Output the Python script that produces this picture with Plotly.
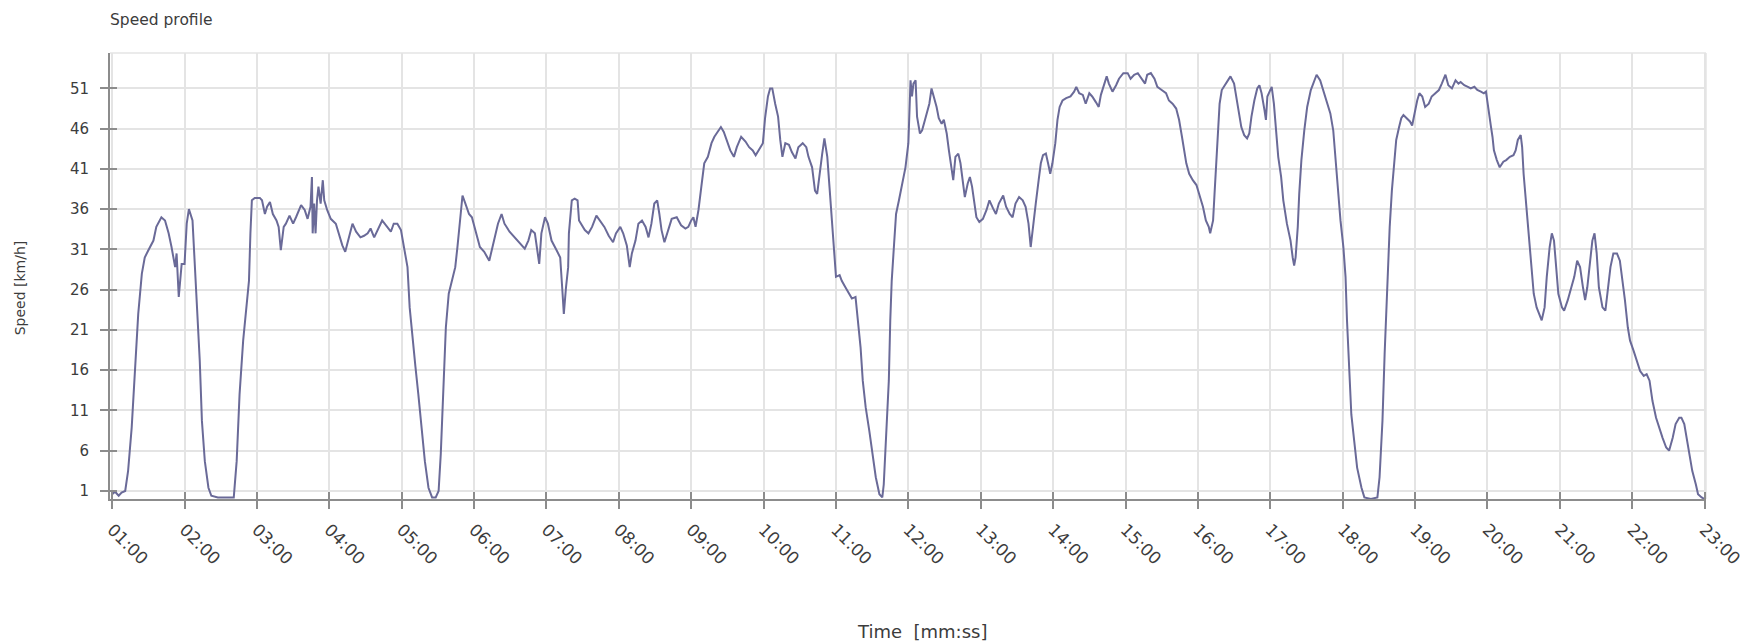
import plotly.graph_objects as go

# Elapsed ride time in minutes and the measured speed in km/h
time_min = [
    1.00, 1.04, 1.09, 1.13, 1.18, 1.22, 1.27, 1.32, 1.36, 1.41, 1.45, 1.50, 1.57, 1.61, 1.68, 1.73,
    1.78, 1.82, 1.87, 1.89, 1.92, 1.96, 2.00, 2.03, 2.06, 2.11, 2.14, 2.18, 2.21, 2.24, 2.28, 2.33,
    2.37, 2.46, 2.56, 2.68, 2.72, 2.76, 2.81, 2.85, 2.89, 2.91, 2.93, 2.97, 3.04, 3.07, 3.11, 3.14,
    3.18, 3.22, 3.27, 3.30, 3.33, 3.37, 3.40, 3.45, 3.50, 3.54, 3.61, 3.66, 3.70, 3.74, 3.76, 3.77,
    3.79, 3.81, 3.83, 3.85, 3.88, 3.91, 3.93, 3.97, 4.02, 4.09, 4.14, 4.18, 4.22, 4.28, 4.32, 4.37,
    4.43, 4.48, 4.53, 4.57, 4.62,
    4.73, 4.80, 4.85, 4.89, 4.94, 4.99, 5.03, 5.08, 5.11, 5.15, 5.19, 5.23, 5.28, 5.32, 5.37, 5.42,
    5.47, 5.51, 5.54, 5.57, 5.61, 5.65, 5.69, 5.74, 5.77, 5.81, 5.84, 5.88, 5.93, 5.97, 6.03, 6.08,
    6.14, 6.21, 6.27, 6.33, 6.38, 6.42, 6.49, 6.56, 6.63, 6.70, 6.75, 6.79, 6.84, 6.87, 6.90, 6.93,
    6.98, 7.02, 7.07, 7.14, 7.19, 7.22, 7.24, 7.27, 7.30, 7.31, 7.35, 7.39, 7.43, 7.45, 7.49, 7.53,
    7.58, 7.63, 7.69, 7.74, 7.80, 7.86, 7.92, 7.96, 8.02, 8.06, 8.11, 8.15, 8.18, 8.23, 8.27, 8.32,
    8.37, 8.41,
    8.45, 8.49, 8.53, 8.56, 8.59, 8.63, 8.68, 8.73, 8.80, 8.86, 8.92, 8.96, 9.00, 9.03, 9.06, 9.10,
    9.14, 9.18, 9.23, 9.28, 9.32, 9.37, 9.41, 9.45, 9.49, 9.54, 9.59, 9.63, 9.69, 9.75, 9.80, 9.85,
    9.89, 9.94, 9.99, 10.02, 10.06, 10.09, 10.12, 10.16, 10.20, 10.23, 10.26, 10.30, 10.35, 10.39,
    10.44, 10.48, 10.54, 10.59, 10.62, 10.67, 10.71, 10.74, 10.77, 10.81, 10.84, 10.88, 10.91, 10.94,
    10.97, 11.00, 11.05, 11.08, 11.13, 11.18, 11.22, 11.27, 11.30, 11.34, 11.37, 11.41, 11.46, 11.51,
    11.55, 11.60, 11.64, 11.66, 11.69, 11.73, 11.75, 11.77, 11.80, 11.83, 11.87, 11.91, 11.96, 12.00,
    12.03, 12.05, 12.07,
    12.10, 12.12, 12.16, 12.19, 12.23, 12.26, 12.29, 12.32, 12.35, 12.39, 12.42, 12.46, 12.49, 12.53,
    12.56, 12.60, 12.62, 12.65, 12.69, 12.72, 12.76, 12.78, 12.82, 12.85, 12.88, 12.91, 12.94, 12.98,
    13.03, 13.08, 13.12, 13.17, 13.21, 13.25, 13.31, 13.35, 13.40, 13.44, 13.48, 13.53, 13.58, 13.62,
    13.66, 13.69, 13.72, 13.76, 13.80, 13.83, 13.86, 13.90, 13.93, 13.96, 13.99, 14.03, 14.06, 14.09,
    14.13, 14.18, 14.24, 14.29, 14.32, 14.36, 14.41, 14.45, 14.50, 14.54, 14.59, 14.63, 14.66, 14.71,
    14.74, 14.77, 14.82, 14.87, 14.91, 14.97, 15.03, 15.07, 15.12, 15.17, 15.23, 15.27, 15.30, 15.35,
    15.40, 15.44, 15.50, 15.56, 15.60, 15.65, 15.70, 15.74, 15.78, 15.81, 15.84, 15.88,
    15.93, 15.98, 16.02, 16.07, 16.11, 16.15, 16.17, 16.21, 16.23, 16.25, 16.28, 16.30, 16.33, 16.37,
    16.41, 16.45, 16.50, 16.53, 16.56, 16.60, 16.64, 16.68, 16.71, 16.74, 16.78, 16.82, 16.85, 16.88,
    16.92, 16.94, 16.96, 17.00, 17.02, 17.05, 17.08, 17.11, 17.15, 17.18, 17.23, 17.28, 17.31, 17.33,
    17.35, 17.38, 17.40, 17.43, 17.47, 17.51, 17.56, 17.61, 17.64, 17.69, 17.73, 17.78, 17.83, 17.87,
    17.90, 17.94, 17.97, 18.01, 18.04, 18.06, 18.09, 18.12, 18.16, 18.20, 18.26, 18.30, 18.39, 18.48,
    18.51, 18.55, 18.58, 18.61, 18.62, 18.65, 18.68, 18.71, 18.74, 18.78, 18.81, 18.84, 18.88, 18.93,
    18.96, 18.99, 19.03, 19.06, 19.10, 19.14, 19.19, 19.23, 19.28, 19.33, 19.37, 19.42, 19.46, 19.51,
    19.56, 19.60,
    19.63, 19.68, 19.73, 19.77, 19.82, 19.86, 19.91, 19.95, 19.98, 20.00, 20.02, 20.05, 20.07, 20.09,
    20.13, 20.17, 20.22, 20.26, 20.31, 20.36, 20.39, 20.42, 20.46, 20.48, 20.50, 20.53, 20.56, 20.58,
    20.61, 20.64, 20.68, 20.71, 20.75, 20.79, 20.82, 20.86, 20.89, 20.92, 20.95, 20.98, 21.03, 21.06,
    21.11, 21.15, 21.20, 21.24, 21.28, 21.32, 21.35, 21.38, 21.42, 21.45, 21.48, 21.51, 21.54, 21.59,
    21.63, 21.66, 21.70, 21.74, 21.79, 21.83, 21.86, 21.90, 21.94, 21.97, 22.02, 22.06, 22.11, 22.16,
    22.20, 22.24, 22.28, 22.33, 22.37, 22.42, 22.47, 22.51, 22.56, 22.60, 22.65, 22.68, 22.72, 22.75,
    22.79, 22.83, 22.88, 22.91, 22.96, 23.00,
]

speed_kmh = [
    0.6, 0.9, 0.4, 0.8, 1.0, 3.5, 8.9, 17.2, 23.0, 28.0, 30.0, 30.9, 32.1, 33.8, 35.0, 34.6,
    33.0, 31.3, 28.8, 30.5, 25.1, 29.2, 29.2, 34.2, 36.0, 34.6, 29.6, 23.4, 17.2, 9.7, 4.7, 1.4,
    0.4, 0.2, 0.2, 0.2, 4.7, 13.0, 19.7, 23.0, 27.1, 33.0, 37.1, 37.4, 37.4, 37.1, 35.4, 36.3,
    36.9, 35.4, 34.6, 33.8, 30.9, 33.8, 34.2, 35.2, 34.2, 35.0, 36.5, 35.9, 34.8, 36.3, 40.0, 33.0,
    36.7, 33.0, 37.1, 38.8, 36.7, 39.6, 37.1, 35.9, 34.8, 34.2, 32.5, 31.5, 30.7, 33.0, 34.2, 33.2,
    32.5, 32.7, 33.0, 33.6, 32.5,
    34.6, 33.8, 33.2, 34.2, 34.2, 33.4, 31.3, 28.8, 23.8, 20.5, 16.4, 13.0, 8.5, 4.7, 1.4, 0.2,
    0.2, 1.0, 5.6, 13.0, 21.3, 25.5, 27.1, 28.8, 31.3, 35.0, 37.7, 36.7, 35.4, 35.0, 33.0, 31.3,
    30.7, 29.6, 31.9, 34.2, 35.4, 34.2, 33.2, 32.5, 31.9, 31.1, 32.1, 33.4, 33.0, 31.3, 29.2, 33.0,
    35.0, 34.2, 32.1, 30.9, 30.0, 25.9, 23.0, 26.3, 28.8, 33.0, 37.1, 37.3, 37.1, 34.6, 34.0, 33.4,
    33.0, 33.8, 35.2, 34.6, 33.8, 32.7, 31.9, 33.0, 33.8, 33.0, 31.5, 28.8, 30.5, 32.1, 34.2, 34.6,
    33.8, 32.5,
    34.2, 36.7, 37.1, 35.4, 33.4, 31.9, 33.4, 34.8, 35.0, 34.0, 33.6, 33.8, 34.6, 35.0, 33.8, 35.9,
    38.8, 41.7, 42.5, 44.2, 45.0, 45.6, 46.2, 45.6, 44.6, 43.3, 42.5, 43.7, 45.0, 44.4, 43.7, 43.3,
    42.7, 43.5, 44.2, 47.3, 50.0, 51.0, 51.0, 49.1, 47.5, 44.6, 42.5, 44.2, 44.0, 43.1,
    42.3, 43.7, 44.2, 43.7, 42.5, 41.2, 38.3, 37.9, 40.4, 42.9, 44.8, 42.5, 38.8, 35.0,
    30.5, 27.6, 27.8, 27.1, 26.3, 25.5, 24.9, 25.1, 22.2, 18.8, 14.7, 11.4, 8.5, 5.6,
    2.7, 0.6, 0.2, 1.8, 7.6, 14.7, 22.2, 27.1, 31.3, 35.4, 37.1, 38.8, 41.2, 44.2,
    52.0, 50.0, 51.6,
    52.0, 47.5, 45.4, 45.8, 47.1, 48.3, 49.1, 51.0, 50.0, 48.7, 47.3, 46.6, 47.1, 45.4,
    43.3, 41.2, 39.6, 42.5, 42.9, 41.7, 38.8, 37.5, 39.2, 40.0, 38.8, 37.1, 35.0, 34.4,
    34.8, 35.9, 37.1, 36.1, 35.4, 36.7, 37.7, 36.3, 35.4, 35.0, 36.7, 37.5, 37.1, 36.3,
    34.2, 31.3, 33.8, 36.7, 39.6, 41.7, 42.7, 42.9, 41.7, 40.4, 41.7, 44.2, 47.1, 48.7,
    49.5, 49.8, 50.0, 50.6, 51.2, 50.4, 50.2, 49.1, 50.4, 50.0, 49.3, 48.7, 50.2, 51.6,
    52.5, 51.6, 50.6, 51.4, 52.2, 52.9, 52.9, 52.2, 52.7, 52.9, 52.2, 51.6, 52.7, 52.9,
    52.2, 51.2, 50.8, 50.4, 49.5, 49.1, 48.5, 47.1, 45.0, 43.3, 41.7, 40.4,
    39.6, 39.0, 37.9, 36.3, 34.6, 33.8, 33.0, 34.6, 37.9, 41.2, 45.4, 49.1, 50.8, 51.4,
    52.0, 52.5, 51.6, 50.0, 47.9, 46.2, 45.2, 44.8, 45.4, 47.5, 49.5, 51.0, 51.4, 50.4,
    48.3, 47.1, 50.0, 50.8, 51.2, 49.1, 46.2, 42.5, 40.0, 37.1, 34.2, 32.1, 30.0, 29.0,
    30.0, 33.8, 37.9, 42.1, 45.8, 48.7, 50.8, 52.0, 52.7, 52.0, 50.8, 49.5, 47.9, 45.8,
    42.1, 37.9, 34.6, 31.3, 27.6, 22.2, 16.4, 10.5, 7.2, 3.9, 1.4, 0.2, 0.0, 0.2,
    2.7, 9.7, 18.0, 24.7, 28.8, 33.8, 38.3, 42.1, 44.6, 46.2, 47.3, 47.7, 47.3, 46.9,
    46.4, 47.9, 49.5, 50.4, 50.0, 48.7, 49.1, 50.0, 50.4, 50.8, 51.6, 52.7, 51.4, 51.0,
    52.0, 51.6,
    51.8, 51.4, 51.2, 51.0, 51.2, 50.8, 50.6, 50.4, 50.6, 49.5, 47.9, 46.2, 45.0, 43.3,
    42.1, 41.2, 41.9, 42.1, 42.5, 42.7, 43.3, 44.6, 45.2, 43.7, 40.4, 37.1, 34.6, 31.3,
    28.0, 25.5, 23.8, 23.0, 22.2, 23.8, 27.6, 31.3, 33.0, 32.1, 28.8, 25.5, 23.8, 23.4,
    24.7, 25.9, 27.6, 29.6, 28.8, 26.3, 24.7, 26.3, 29.6, 32.1, 33.0, 30.5, 26.3, 23.8,
    23.4, 25.5, 28.8, 30.5, 30.5, 29.6, 27.6, 24.7, 21.3, 19.7, 18.4, 17.2, 15.9, 15.3,
    15.5, 14.7, 12.2, 10.1, 8.9, 7.6, 6.4, 6.0, 7.6, 9.3, 10.1, 10.1, 9.3, 7.6,
    5.6, 3.5, 1.8, 0.6, 0.2, 0.0,
]

# Axis ticks
x_tick_minutes = list(range(1, 24))
x_tick_labels = [f"{m:02d}:00" for m in x_tick_minutes]
y_tick_values = [1, 6, 11, 16, 21, 26, 31, 36, 41, 46, 51]

X_RANGE = [0.97, 23.02]
Y_RANGE = [0, 55.4]

FONT = "DejaVu Sans"
TEXT = "#3c3c3c"
GRID = "#e4e4e4"
AXIS = "#8c8c8c"
LINE = "#6a6a98"

fig = go.Figure()

fig.add_trace(go.Scatter(
    x=time_min, y=speed_kmh, mode="lines",
    line=dict(color=LINE, width=2.0),
    showlegend=False, hoverinfo="x+y",
))

# Empty trace carrying the overlay axes used for the inner half of each tick mark
fig.add_trace(go.Scatter(x=[None], y=[None], xaxis="x2", yaxis="y2",
                         showlegend=False, hoverinfo="skip"))

fig.update_layout(
    width=1757, height=643,
    margin=dict(l=110, r=45, t=53, b=144),
    paper_bgcolor="white", plot_bgcolor="white",
    font=dict(family=FONT, color=TEXT, size=14),
    title=dict(text="Speed profile", x=110 / 1757, xanchor="left",
               y=1 - 20 / 643, yanchor="middle",
               font=dict(family=FONT, size=15.5, color=TEXT)),
    xaxis=dict(
        range=X_RANGE, tickmode="array", tickvals=x_tick_minutes, ticktext=x_tick_labels,
        tickangle=45, showgrid=True, gridcolor=GRID, gridwidth=1.5,
        showline=True, linecolor=AXIS, linewidth=2,
        ticks="outside", ticklen=8, tickwidth=1.5, tickcolor=AXIS,
        tickfont=dict(size=17, color=TEXT), zeroline=False, ticklabelstandoff=4,
    ),
    yaxis=dict(
        range=Y_RANGE, tickmode="array", tickvals=y_tick_values,
        showgrid=True, gridcolor=GRID, gridwidth=1.5,
        showline=True, linecolor=AXIS, linewidth=2,
        ticks="outside", ticklen=8, tickwidth=1.5, tickcolor=AXIS,
        tickfont=dict(size=15, color=TEXT), zeroline=False, ticklabelstandoff=8,
    ),
    xaxis2=dict(
        range=X_RANGE, overlaying="x", anchor="y", side="bottom",
        tickmode="array", tickvals=x_tick_minutes, showticklabels=False,
        ticks="inside", ticklen=7, tickwidth=1.5, tickcolor=AXIS,
        showgrid=False, showline=False, zeroline=False,
    ),
    yaxis2=dict(
        range=Y_RANGE, overlaying="y", anchor="x", side="left",
        tickmode="array", tickvals=y_tick_values, showticklabels=False,
        ticks="inside", ticklen=7, tickwidth=1.5, tickcolor=AXIS,
        showgrid=False, showline=False, zeroline=False,
    ),
    annotations=[
        dict(text="Time  [mm:ss]", xref="paper", yref="paper",
             x=0.509, y=-0.298, xanchor="center", yanchor="middle",
             showarrow=False, font=dict(size=18, color=TEXT)),
        dict(text="Speed [km/h]", xref="paper", yref="paper",
             x=-0.0562, y=0.473, xanchor="center", yanchor="middle",
             textangle=-90, showarrow=False, font=dict(size=14, color=TEXT)),
    ],
    shapes=[
        # light frame on the top and right of the plotting area
        dict(type="line", xref="paper", yref="paper", x0=0, x1=1, y0=1, y1=1,
             line=dict(color=GRID, width=1.5), layer="below"),
        dict(type="line", xref="paper", yref="paper", x0=1, x1=1, y0=0, y1=1,
             line=dict(color=GRID, width=1.5), layer="below"),
    ],
)

fig.write_html("out.html")
